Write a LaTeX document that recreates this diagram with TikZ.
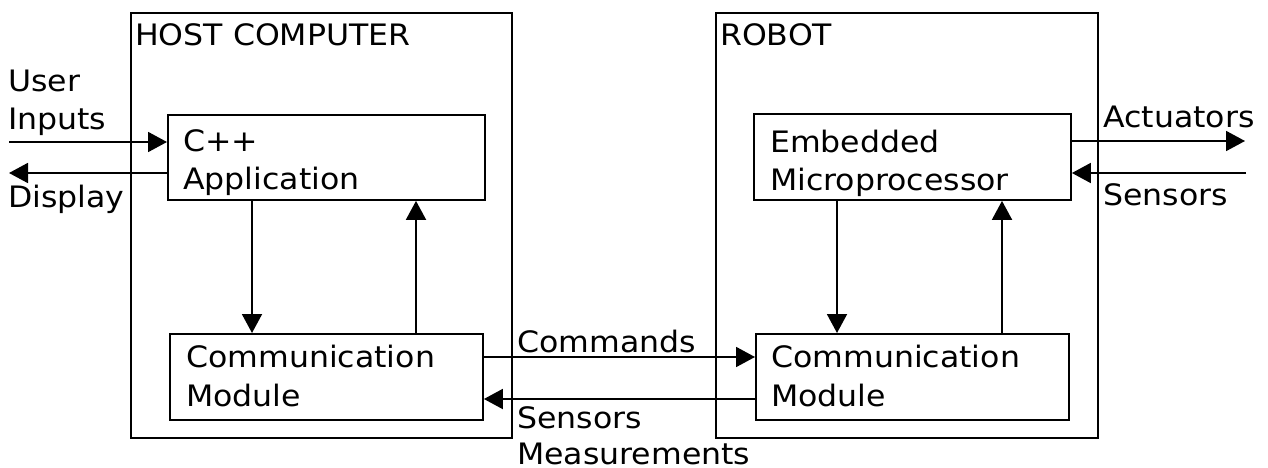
\documentclass[tikz,border=0pt]{standalone}
\usepackage{fontspec}
\setmainfont[FakeStretch=1.07]{DejaVu Sans}
\usetikzlibrary{arrows.meta}
\begin{document}
\begin{tikzpicture}[x=1pt,y=-1pt,
  font=\fontsize{29.5pt}{38pt}\selectfont,
  blk/.style={draw, line width=1.9pt, inner sep=0pt, anchor=north west},
  lbl/.style={anchor=base west, inner sep=0pt},
  arr/.style={line width=1.9pt, -{Triangle[length=19pt,width=20pt]}}]
\useasboundingbox[fill=white] (0,0) rectangle (1268,468);
% frames
\node[blk, minimum width=381pt, minimum height=425pt] (host) at (130,12) {};
\node[blk, minimum width=382pt, minimum height=425pt] (robot) at (715,12) {};
% blocks
\node[blk, minimum width=317pt, minimum height=85pt] (app) at (167,114) {};
\node[blk, minimum width=313pt, minimum height=86pt] (hcm) at (169,333) {};
\node[blk, minimum width=317pt, minimum height=86pt] (emb) at (753,113) {};
\node[blk, minimum width=313pt, minimum height=86pt] (rcm) at (755,333) {};
% texts
\node[lbl] (thost) at (135,46) {HOST COMPUTER};
\node[lbl] (trobot) at (720,46) {ROBOT};
\node[lbl] (tapp1) at (183,151) {C++};
\node[lbl] (tapp2) at (183,189) {Application};
\node[lbl] (thcm1) at (186,367) {Communication};
\node[lbl] (thcm2) at (186,406) {Module};
\node[lbl] (temb1) at (770,152) {Embedded};
\node[lbl] (temb2) at (770,190) {Microprocessor};
\node[lbl] (trcm1) at (771,367) {Communication};
\node[lbl] (trcm2) at (771,406) {Module};
\node[lbl] (tuser) at (8,92) {User};
\node[lbl] (tinp) at (8,130) {Inputs};
\node[lbl] (tdisp) at (8,207) {Display};
\node[lbl] (tcmd) at (517,352) {Commands};
\node[lbl] (tsen1) at (517,428) {Sensors};
\node[lbl] (tsen2) at (517,464) {Measurements};
\node[lbl] (tact) at (1103,128) {Actuators};
\node[lbl] (tsen3) at (1103,205) {Sensors};
% free ends and guide coordinates
\coordinate (ui) at (9,142);
\coordinate (dp) at (9,173);
\coordinate (ac) at (1245,141);
\coordinate (se) at (1246,173);
\coordinate (hd) at (252,0);
\coordinate (hu) at (416,0);
\coordinate (rd) at (837,0);
\coordinate (ru) at (1002,0);
\coordinate (cmd) at (0,357);
\coordinate (sm) at (0,399);
% connectors
\draw[arr] (ui) -- (ui -| app.west);
\draw[arr] (dp -| app.west) -- (dp);
\draw[arr] (hd |- app.south) -- (hd |- hcm.north);
\draw[arr] (hu |- hcm.north) -- (hu |- app.south);
\draw[arr] (cmd -| hcm.east) -- (cmd -| rcm.west);
\draw[arr] (sm -| rcm.west) -- (sm -| hcm.east);
\draw[arr] (rd |- emb.south) -- (rd |- rcm.north);
\draw[arr] (ru |- rcm.north) -- (ru |- emb.south);
\draw[arr] (ac -| emb.east) -- (ac);
\draw[arr] (se) -- (se -| emb.east);
\end{tikzpicture}
\end{document}
